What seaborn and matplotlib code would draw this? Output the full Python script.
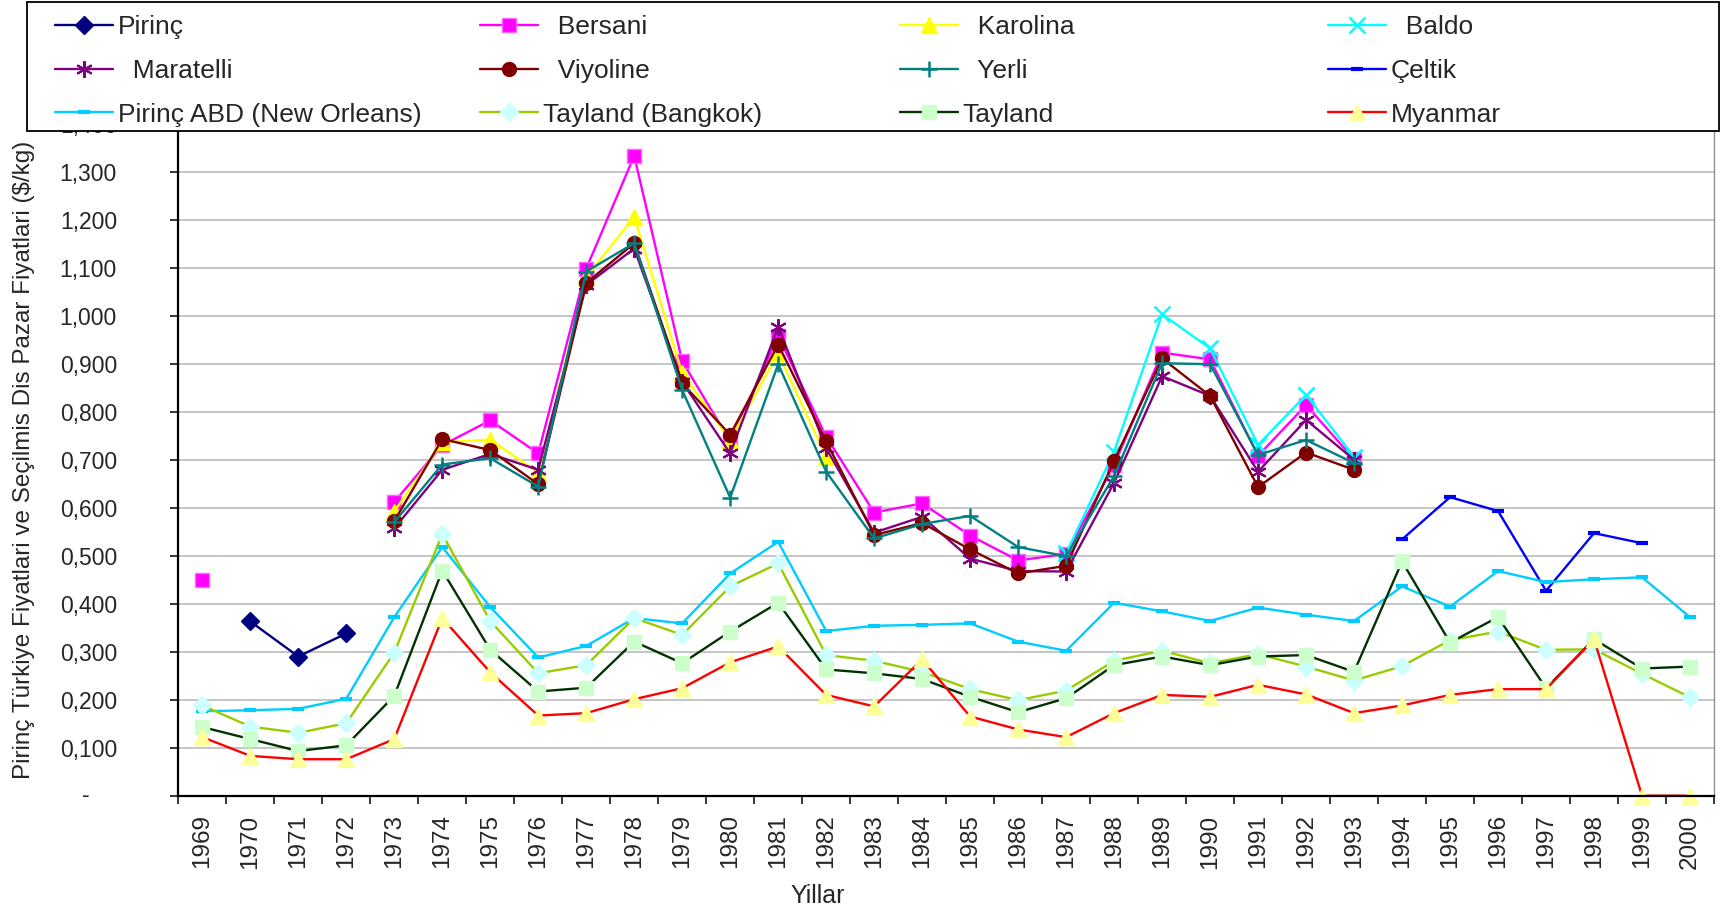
import numpy as np
import pandas as pd
import matplotlib
matplotlib.use("Agg")
import matplotlib.pyplot as plt
import matplotlib.transforms as mtransforms
from matplotlib.lines import Line2D
from matplotlib.patches import Rectangle
import seaborn as sns

nan = np.nan

# ---------------- data ----------------
years = list(range(1969, 2001))

pirinc = [nan, 0.363, 0.290, 0.338] + [nan] * 28
bersani = ([0.450, nan, nan, nan,
            0.612, 0.730, 0.782, 0.713, 1.098, 1.333, 0.905, 0.738, 0.958, 0.748,
            0.590, 0.609, 0.542, 0.490, 0.504, 0.689, 0.923, 0.909, 0.708, 0.814, 0.701]
           + [nan] * 7)
karolina = ([nan] * 4
            + [0.592, 0.736, 0.742, 0.673, 1.080, 1.206, 0.880, 0.741, 0.922, 0.706]
            + [nan] * 18)
baldo = [nan] * 18 + [0.505, 0.717, 1.003, 0.932, 0.731, 0.835, 0.706] + [nan] * 7
maratelli = ([nan] * 4
             + [0.557, 0.679, 0.712, 0.679, 1.064, 1.140, 0.862, 0.713, 0.977, 0.724,
                0.548, 0.581, 0.494, 0.468, 0.467, 0.652, 0.874, 0.833, 0.675, 0.783, 0.700]
             + [nan] * 7)
viyoline = ([nan] * 4
            + [0.572, 0.743, 0.720, 0.649, 1.068, 1.151, 0.859, 0.752, 0.940, 0.738,
               0.543, 0.568, 0.513, 0.463, 0.479, 0.698, 0.911, 0.833, 0.643, 0.715, 0.679]
            + [nan] * 7)
yerli = ([nan] * 4
         + [0.570, 0.690, 0.703, 0.644, 1.092, 1.151, 0.845, 0.621, 0.899, 0.675,
            0.536, 0.566, 0.583, 0.518, 0.499, 0.666, 0.901, 0.899, 0.710, 0.741, 0.693]
         + [nan] * 7)
celtik = [nan] * 25 + [0.534, 0.622, 0.593, 0.427, 0.547, 0.526, nan]
abd = [0.176, 0.178, 0.181, 0.202, 0.372, 0.518, 0.393, 0.288, 0.312, 0.370, 0.359,
       0.463, 0.529, 0.343, 0.354, 0.356, 0.359, 0.321, 0.302, 0.402, 0.384, 0.364,
       0.392, 0.377, 0.364, 0.436, 0.394, 0.468, 0.445, 0.451, 0.455, 0.372]
bangkok = [0.188, 0.144, 0.131, 0.151, 0.298, 0.545, 0.364, 0.255, 0.272, 0.370, 0.335,
           0.436, 0.484, 0.293, 0.281, 0.258, 0.222, 0.199, 0.219, 0.281, 0.302, 0.276,
           0.295, 0.269, 0.240, 0.270, 0.324, 0.342, 0.304, 0.305, 0.254, 0.205]
tayland = [0.143, 0.118, 0.093, 0.105, 0.208, 0.469, 0.304, 0.217, 0.225, 0.321, 0.276,
           0.342, 0.402, 0.263, 0.255, 0.243, 0.206, 0.174, 0.203, 0.272, 0.290, 0.272,
           0.290, 0.293, 0.258, 0.488, 0.319, 0.372, 0.224, 0.326, 0.265, 0.269]
myanmar = [0.122, 0.083, 0.076, 0.076, 0.118, 0.370, 0.257, 0.167, 0.172, 0.201, 0.224,
           0.278, 0.311, 0.210, 0.186, 0.284, 0.165, 0.138, 0.122, 0.172, 0.210, 0.206,
           0.231, 0.211, 0.172, 0.188, 0.210, 0.222, 0.222, 0.326, 0.0, 0.0]

y_ticks = [i / 10 for i in range(0, 15)]
y_tick_labels = ["", "0,100", "0,200", "0,300", "0,400", "0,500", "0,600", "0,700",
                 "0,800", "0,900", "1,000", "1,100", "1,200", "1,300", "1,400"]

# ---------------- style ----------------
sns.set_style("white")
plt.rcParams["font.family"] = ["Liberation Sans", "DejaVu Sans"]

series = [
    # label, values, line color, marker, size, face, edge, mew
    ("Pirinç", pirinc, "#000080", "D", 9, "#000080", "#000080", 1.0),
    ("  Bersani", bersani, "#FF00FF", "s", 9.5, "#FF00FF", "#FF66FF", 1.0),
    ("  Karolina", karolina, "#FFFF00", "^", 11, "#FFFF00", "#FFFF00", 1.0),
    ("  Baldo", baldo, "#00FFFF", "x", 11, "#00FFFF", "#00FFFF", 1.8),
    ("  Maratelli", maratelli, "#800080", (6, 2, 0), 12, "#800080", "#800080", 1.5),
    ("  Viyoline", viyoline, "#800000", "o", 10, "#800000", "#800000", 1.0),
    ("  Yerli", yerli, "#008080", "+", 12, "#008080", "#008080", 1.8),
    ("Çeltik", celtik, "#0000FF", "_", 8, "#0000FF", "#0000FF", 3.0),
    ("Pirinç ABD (New Orleans)", abd, "#00CCFF", "_", 9, "#00CCFF", "#00CCFF", 3.0),
    ("Tayland (Bangkok)", bangkok, "#99CC00", "D", 9.5, "#CCFFFF", "#CCFFFF", 1.0),
    ("Tayland", tayland, "#003300", "s", 10, "#CCFFCC", "#CCFFCC", 1.0),
    ("Myanmar", myanmar, "#FF0000", "^", 11.5, "#FFFF99", "#FFFF99", 1.0),
]

W, H = 1722, 911
fig = plt.figure(figsize=(W / 100, H / 100), dpi=100)
ax_left, ax_right, ax_top, ax_bot = 178.3, 1714.0, 123.7, 795.7
ax = fig.add_axes([ax_left / W, 1 - ax_bot / H, (ax_right - ax_left) / W, (ax_bot - ax_top) / H])


def runs(vals):
    segs, cur = [], []
    for yr, v in zip(years, vals):
        if v is None or np.isnan(v):
            if cur:
                segs.append(cur)
                cur = []
        else:
            cur.append((yr, v))
    if cur:
        segs.append(cur)
    return segs


handles = []
for i, (label, vals, col, mk, ms, mfc, mec, mew) in enumerate(series):
    for seg in runs(vals):
        df = pd.DataFrame(seg, columns=["Yil", "Fiyat"])
        sns.lineplot(data=df, x="Yil", y="Fiyat", ax=ax, color=col, linewidth=1.7,
                     marker=mk, markersize=ms, markerfacecolor=mfc,
                     markeredgecolor=mec, markeredgewidth=mew, legend=False,
                     errorbar=None, clip_on=False, zorder=3 + i * 0.1)
    handles.append(Line2D([], [], color=col, linewidth=1.7, marker=mk, markersize=ms,
                          markerfacecolor=mfc, markeredgecolor=mec, markeredgewidth=mew,
                          label=label))

# ---------------- axes ----------------
ax.set_xlim(1968.5, 2000.5)
ax.set_ylim(0, 1.4)
ax.set_yticks(y_ticks)
ax.set_yticklabels(y_tick_labels)
ax.set_xticks(years)
ax.set_xticklabels([str(y) for y in years], rotation=90, va="top", ha="center")
ax.set_xticks([y + 0.5 for y in range(1968, 2001)], minor=True)

ax.tick_params(axis="y", which="major", direction="out", length=5.8, width=1.1,
               color="black", pad=38.4, labelsize=16.5, left=True)
ax.tick_params(axis="x", which="major", length=0, pad=13.5, labelsize=17.5, bottom=True)
ax.tick_params(axis="x", which="minor", direction="out", length=5.8, width=1.1,
               color="black", bottom=True)

ax.yaxis.grid(True, color="#C0C0C0", linewidth=1.3)
ax.xaxis.grid(False)
ax.set_axisbelow(True)

for side in ["left", "bottom"]:
    ax.spines[side].set_color("black")
    ax.spines[side].set_linewidth(1.6)
    ax.spines[side].set_zorder(10)
ax.spines["right"].set_color("#909090")
ax.spines["right"].set_linewidth(1.0)
ax.spines["top"].set_visible(False)

# dash for zero label (Excel accounting format)
trans = mtransforms.blended_transform_factory(ax.transAxes, ax.transData)
ax.text(-0.0604, 0.0, "-", transform=trans, ha="center", va="center", fontsize=16.5)

ax.set_xlabel("Yillar", fontsize=18, va="center")
ax.xaxis.set_label_coords((818 - ax_left) / (ax_right - ax_left), -(896 - ax_bot) / (ax_bot - ax_top))
ax.set_ylabel("Pirinç Türkiye Fiyatlari ve Seçilmis Dis Pazar Fiyatlari ($/kg)",
              fontsize=17.5, va="center")
ax.yaxis.set_label_coords((24 - ax_left) / (ax_right - ax_left), 0.5)

# ---------------- legend ----------------
frame = Rectangle((27 / W, 1 - 131 / H), (1719 - 27) / W, 129 / H,
                  transform=fig.transFigure, facecolor="white", edgecolor="black",
                  linewidth=1.3, zorder=20)
fig.patches.append(frame)

col_x = [55, 480, 900, 1328]
for c in range(4):
    hs = [handles[c + 4 * r] for r in range(3)]
    leg = fig.legend(handles=hs, labels=[h.get_label() for h in hs], loc="upper left",
                     bbox_to_anchor=(col_x[c] / W, 1 - 15 / H),
                     bbox_transform=fig.transFigure, frameon=False, fontsize=19,
                     borderpad=0, borderaxespad=0, handlelength=2.2,
                     handletextpad=0.17, labelspacing=0.75)
    leg.set_zorder(21)

fig.savefig("out.png", dpi=100)
